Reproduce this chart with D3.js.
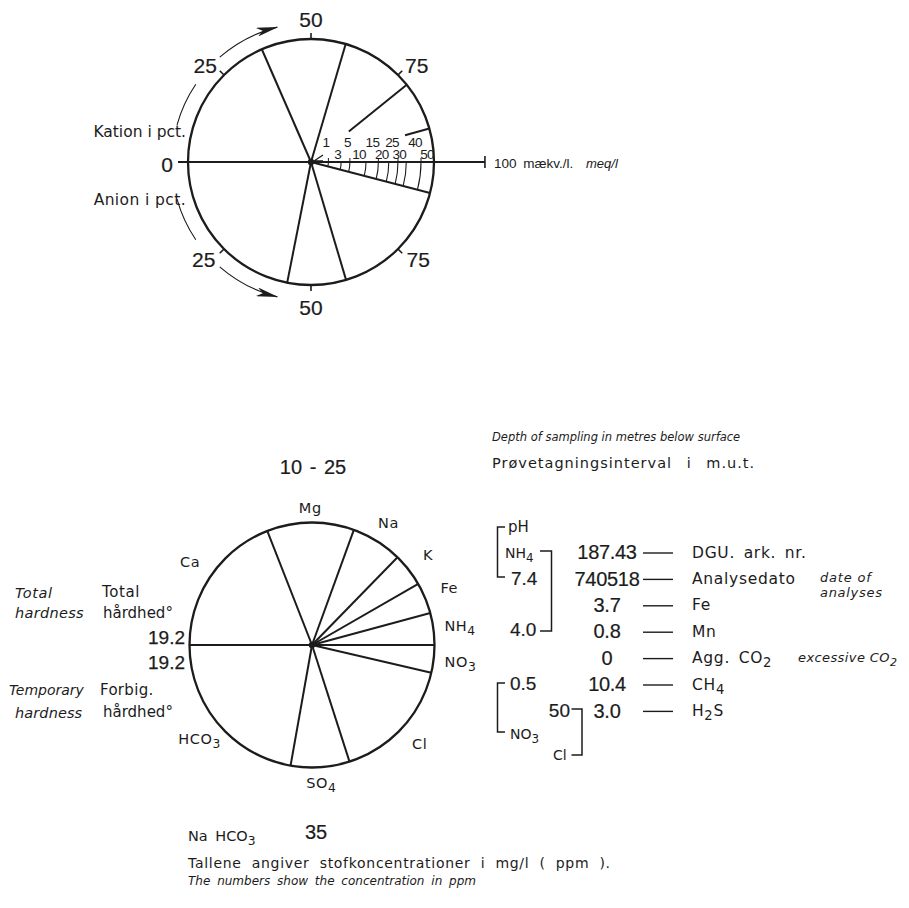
<!DOCTYPE html>
<html><head><meta charset="utf-8">
<script src="https://cdn.jsdelivr.net/npm/d3@7"></script>
<style>body{margin:0;background:#fff}svg{display:block}</style>
</head><body>
<script>
// ---- Key diagram (upper circle) ----
const pctTicks = [25, 50, 75];
const keyCationPct = [36.9, 22.2, 19.3, 12.8, 8.8];
const keyAnionPct = [43.8, 15.4, 32.7, 8.1];
const keyCationStartMeq = [0, 0, 7.8, 31.6];   // meq/l where each cation boundary line starts
const meqUpper = [1, 5, 15, 25, 40];
const meqLower = [3, 10, 20, 30, 50];
const meqHatch = [1, 3, 5, 10, 15, 20, 25, 30, 40];
const meqMax = 100;

// ---- Sample diagram (lower circle) ----
const sampleInterval = "10 - 25";
const cationNames = ["Ca", "Mg", "Na", "K", "Fe", "NH_4"];
const cationPct = [38.1, 23.0, 13.5, 8.8, 8.2, 8.4];
const anionNames = ["HCO_3", "SO_4", "Cl", "NO_3"];
const anionPct = [44.4, 15.5, 32.8, 7.3];
const totalHardness = "19.2";
const tempHardness = "19.2";
const infoValues = ["187.43", "740518", "3.7", "0.8", "0", "10.4", "3.0"];
const infoLabels = ["DGU. ark. nr.", "Analysedato", "Fe", "Mn", "Agg. CO_2", "CH_4", "H_2S"];
const phValue = "7.4", nh4Value = "4.0", no3Value = "0.5", clValue = "50";
const naHco3Value = "35";

const W = 909, H = 908;
const TXT = "DejaVu Sans", NUM = "Liberation Sans";
const INK = "#1c1c1c";

const svg = d3.select("body").append("svg").attr("width", W).attr("height", H);
svg.append("rect").attr("width", W).attr("height", H).attr("fill", "#fff");

svg.append("defs").append("marker")
  .attr("id", "arrowhead").attr("viewBox", "0 0 22 9")
  .attr("refX", 21).attr("refY", 4.5)
  .attr("markerWidth", 22).attr("markerHeight", 9)
  .attr("markerUnits", "userSpaceOnUse").attr("orient", "auto")
  .append("path").attr("d", "M0,0 L22,4.5 L0,9 L6,4.5 Z").attr("fill", INK);

// percentage -> angle (0 % at 9 o'clock, 100 % at 3 o'clock)
const pctAngle = d3.scaleLinear().domain([0, 100]).range([Math.PI, 0]);
// SVG angle (y down): cations above the axis, anions below
const cationT = p => -pctAngle(p);
const anionT = p => pctAngle(p);
const polar = (cx, cy, r, t) => [cx + r * Math.cos(t), cy + r * Math.sin(t)];

function rich(textSel, str, subSize) {
  const parts = str.split(/_(\d)/);
  parts.forEach((p, i) => {
    if (!p) return;
    if (i % 2 === 1) {
      textSel.append("tspan").attr("dy", 4).attr("font-size", subSize).text(p);
    } else {
      const t = textSel.append("tspan").text(p);
      if (i > 0) t.attr("dy", -4);
    }
  });
  return textSel;
}

function label(x, y, str, o = {}) {
  const t = svg.append("text")
    .attr("x", x).attr("y", y).attr("dy", "0.36em")
    .attr("font-family", o.family || TXT)
    .attr("font-size", o.size || 15)
    .attr("font-style", o.italic ? "italic" : "normal")
    .attr("text-anchor", o.anchor || "start")
    .attr("fill", INK);
  if (o.ls) t.attr("letter-spacing", o.ls);
  if (o.ws) t.attr("word-spacing", o.ws);
  if (o.heavy) t.attr("stroke", INK).attr("stroke-width", o.heavy);
  rich(t, str, (o.size || 15) * 0.85);
  return t;
}

const cum = arr => arr.slice(0, -1).map((_, i) => d3.sum(arr.slice(0, i + 1)));

// ===================== Key circle =====================
{
  const cx = 311, cy = 162, R = 123;
  const rMeq = d3.scaleSqrt().domain([0, 50]).range([0, R]);
  const g = svg.append("g").attr("stroke", INK).attr("fill", "none");

  // hatched sector: last anion sector, with arcs at the meq scale values
  const hatchStart = anionT(d3.sum(keyAnionPct.slice(0, -1)));
  meqHatch.forEach(v => {
    const p = d3.path();
    const [x0, y0] = polar(cx, cy, rMeq(v), 0);
    p.moveTo(x0, y0);
    p.arc(cx, cy, rMeq(v), 0, hatchStart, false);
    g.append("path").attr("d", p.toString()).attr("stroke-width", 1.1);
  });

  g.append("circle").attr("cx", cx).attr("cy", cy).attr("r", R).attr("stroke-width", 2.3);

  // left horizontal 0 % line, extended past the rim
  g.append("line").attr("x1", cx).attr("y1", cy).attr("x2", cx - R - 10).attr("y2", cy).attr("stroke-width", 2);
  // meq axis to the right
  const xEnd = cx + rMeq(meqMax);
  g.append("line").attr("x1", cx).attr("y1", cy).attr("x2", xEnd).attr("y2", cy).attr("stroke-width", 2);
  g.append("line").attr("x1", xEnd).attr("y1", cy - 6).attr("x2", xEnd).attr("y2", cy + 6).attr("stroke-width", 1.6);

  // cation boundaries
  cum(keyCationPct).forEach((p, i) => {
    const t = cationT(p);
    const [x0, y0] = polar(cx, cy, rMeq(keyCationStartMeq[i]), t);
    const [x1, y1] = polar(cx, cy, R, t);
    g.append("line").attr("x1", x0).attr("y1", y0).attr("x2", x1).attr("y2", y1).attr("stroke-width", 2);
  });
  // anion boundaries
  cum(keyAnionPct).forEach(p => {
    const [x1, y1] = polar(cx, cy, R, anionT(p));
    g.append("line").attr("x1", cx).attr("y1", cy).attr("x2", x1).attr("y2", y1).attr("stroke-width", 2);
  });

  // percentage ticks on the rim
  pctTicks.forEach(p => {
    [cationT(p), anionT(p)].forEach(t => {
      const [a, b] = polar(cx, cy, R, t), [c, d] = polar(cx, cy, R + 6, t);
      g.append("line").attr("x1", a).attr("y1", b).attr("x2", c).attr("y2", d).attr("stroke-width", 1.6);
    });
  });

  // arrows showing the counting direction
  const rA = 139;
  [[8.6, 18.9], [27.2, 42.2]].forEach(([p0, p1], k) => {
    const up = d3.path();
    up.moveTo(...polar(cx, cy, rA, cationT(p0)));
    up.arc(cx, cy, rA, cationT(p0), cationT(p1), false);
    const lo = d3.path();
    lo.moveTo(...polar(cx, cy, rA, anionT(p0)));
    lo.arc(cx, cy, rA, anionT(p0), anionT(p1), true);
    const a = g.append("path").attr("d", up.toString()).attr("stroke-width", 1.1);
    const b = g.append("path").attr("d", lo.toString()).attr("stroke-width", 1.1);
    if (k === 1) { a.attr("marker-end", "url(#arrowhead)"); b.attr("marker-end", "url(#arrowhead)"); }
  });

  // meq scale ticks above the axis
  meqUpper.forEach(v => {
    g.append("line").attr("x1", cx + rMeq(v)).attr("y1", cy - 4).attr("x2", cx + rMeq(v)).attr("y2", cy).attr("stroke-width", 1);
  });
  // small pointer at the centre
  g.append("path").attr("d", `M${cx + 12},${cy - 7} L${cx + 3},${cy - 1} L${cx + 12},${cy - 1}`).attr("stroke-width", 1.3);
  svg.append("circle").attr("cx", cx).attr("cy", cy).attr("r", 3.2).attr("fill", INK);

  meqUpper.forEach(v => label(cx + rMeq(v) + 1, cy - 20, String(v), { family: NUM, size: 13.5, anchor: "end", ls: -0.6 }));
  meqLower.forEach(v => label(cx + rMeq(v), cy - 8, String(v), { family: NUM, size: 13.5, anchor: "end", ls: -0.6 }));

  // percentage labels
  pctTicks.forEach(p => {
    const q = p + (p - 50) * 0.06;
    const [x1, y1] = polar(cx, cy, 143, cationT(q));
    const [x2, y2] = polar(cx, cy, 145, anionT(q));
    label(x1, y1, String(p), { family: NUM, size: 21, anchor: "middle", heavy: 0.2 });
    label(x2, y2, String(p), { family: NUM, size: 21, anchor: "middle", heavy: 0.2 });
  });
  label(cx - R - 15, cy + 2, "0", { family: NUM, size: 21, anchor: "end", heavy: 0.2 });
  label(186, cy - 31, "Kation i pct.", { size: 15.5, anchor: "end" });
  label(186, cy + 37, "Anion i pct.", { size: 15.5, anchor: "end", ls: 0.4 });

  label(xEnd + 9, cy + 1, "100 mækv./l.", { family: NUM, size: 13.5, ws: 3 });
  label(586, cy + 1, "meq/l", { family: NUM, size: 13, italic: true });
}

// ===================== Sample circle =====================
{
  const cx = 312, cy = 645, R = 122.5;
  const g = svg.append("g").attr("stroke", INK).attr("fill", "none");
  g.append("circle").attr("cx", cx).attr("cy", cy).attr("r", R).attr("stroke-width", 2.3);
  g.append("line").attr("x1", cx - R).attr("y1", cy).attr("x2", cx + R).attr("y2", cy).attr("stroke-width", 2);

  cum(cationPct).forEach(p => {
    const [x, y] = polar(cx, cy, R, cationT(p));
    g.append("line").attr("x1", cx).attr("y1", cy).attr("x2", x).attr("y2", y).attr("stroke-width", 2);
  });
  cum(anionPct).forEach(p => {
    const [x, y] = polar(cx, cy, R, anionT(p));
    g.append("line").attr("x1", cx).attr("y1", cy).attr("x2", x).attr("y2", y).attr("stroke-width", 2);
  });
  svg.append("circle").attr("cx", cx).attr("cy", cy).attr("r", 3.2).attr("fill", INK);

  // ion names at the middle of each sector
  const placeNames = (names, pcts, toT) => {
    let acc = 0;
    names.forEach((n, i) => {
      const mid = acc + pcts[i] / 2; acc += pcts[i];
      const t = toT(mid);
      const r = R + 15 + 12 * Math.abs(Math.cos(t));
      const [x, y] = polar(cx, cy, r, t);
      label(x, y, n, { size: 14.5, anchor: "middle", ls: 0.6 });
    });
  };
  placeNames(cationNames, cationPct, cationT);
  placeNames(anionNames, anionPct, anionT);

  label(cx + 1, 467, sampleInterval, { family: NUM, size: 20, anchor: "middle", ws: 2, heavy: 0.2 });

  // hardness
  label(185, cy - 8, totalHardness, { family: NUM, size: 19, anchor: "end", heavy: 0.25 });
  label(185, cy + 17, tempHardness, { family: NUM, size: 19, anchor: "end", heavy: 0.25 });
  label(102, 592, "Total", { size: 15, ls: 0.6 });
  label(103, 613, "hårdhed°", { size: 15 });
  label(100, 690, "Forbig.", { size: 15, ls: 0.3 });
  label(103, 712, "hårdhed°", { size: 15 });
  label(15, 593, "Total", { size: 14.5, italic: true, ls: 0.6 });
  label(15, 613, "hardness", { size: 14.5, italic: true, ls: 0.3 });
  label(9, 690, "Temporary", { size: 14, italic: true });
  label(15, 713, "hardness", { size: 14.5, italic: true, ls: 0.1 });
}

// ===================== Sample data block =====================
{
  label(492, 437, "Depth of sampling in metres below surface", { size: 11.5, italic: true });
  label(492, 463, "Prøvetagningsinterval  i  m.u.t.", { size: 14.5, ls: 1.0, ws: 9 });

  const rowY = d3.scaleLinear().domain([0, 1]).range([552, 578.4]);
  infoValues.forEach((v, i) => {
    label(607, rowY(i), v, { family: NUM, size: 20, anchor: "middle", ls: -0.3, heavy: 0.2 });
    svg.append("line").attr("x1", 643).attr("x2", 673).attr("y1", rowY(i) + 1).attr("y2", rowY(i) + 1)
      .attr("stroke", INK).attr("stroke-width", 1.4);
    label(692, rowY(i), infoLabels[i], { size: 15.5, ls: 0.7, ws: 3 });
  });
  label(820, 577, "date of", { size: 13, italic: true, ls: 0.8 });
  label(820, 592, "analyses", { size: 13, italic: true, ls: 0.7 });
  label(798, 657, "excessive CO_2", { size: 13, italic: true, ls: 0.4 });

  const br = svg.append("g").attr("stroke", INK).attr("fill", "none").attr("stroke-width", 1.5);
  br.append("path").attr("d", "M505,527 H497.5 V577 H505");
  br.append("path").attr("d", "M540,551 H551.5 V631 H540");
  br.append("path").attr("d", "M505,683 H497.5 V732 H505");
  br.append("path").attr("d", "M571.5,709 H582 V755 H571.5");

  label(508, 527, "pH", { size: 15 });
  label(505, 553, "NH_4", { size: 14 });
  label(511, 578, phValue, { family: NUM, size: 19, heavy: 0.2 });
  label(510, 629, nh4Value, { family: NUM, size: 19, heavy: 0.2 });
  label(510, 683, no3Value, { family: NUM, size: 19, heavy: 0.2 });
  label(510, 734, "NO_3", { size: 14 });
  label(570, 710, clValue, { family: NUM, size: 19, anchor: "end", heavy: 0.2 });
  label(553, 755, "Cl", { size: 14 });
}

// ===================== Footer =====================
label(188, 836, "Na HCO_3", { size: 14.5, ws: 3 });
label(305, 832, naHco3Value, { family: NUM, size: 20, heavy: 0.2 });
label(188, 863, "Tallene angiver stofkoncentrationer i mg/l ( ppm ).", { size: 14, ls: 0.7, ws: 5 });
label(188, 881, "The numbers show the concentration in ppm", { size: 12, italic: true, ws: 3 });
</script>
</body></html>
